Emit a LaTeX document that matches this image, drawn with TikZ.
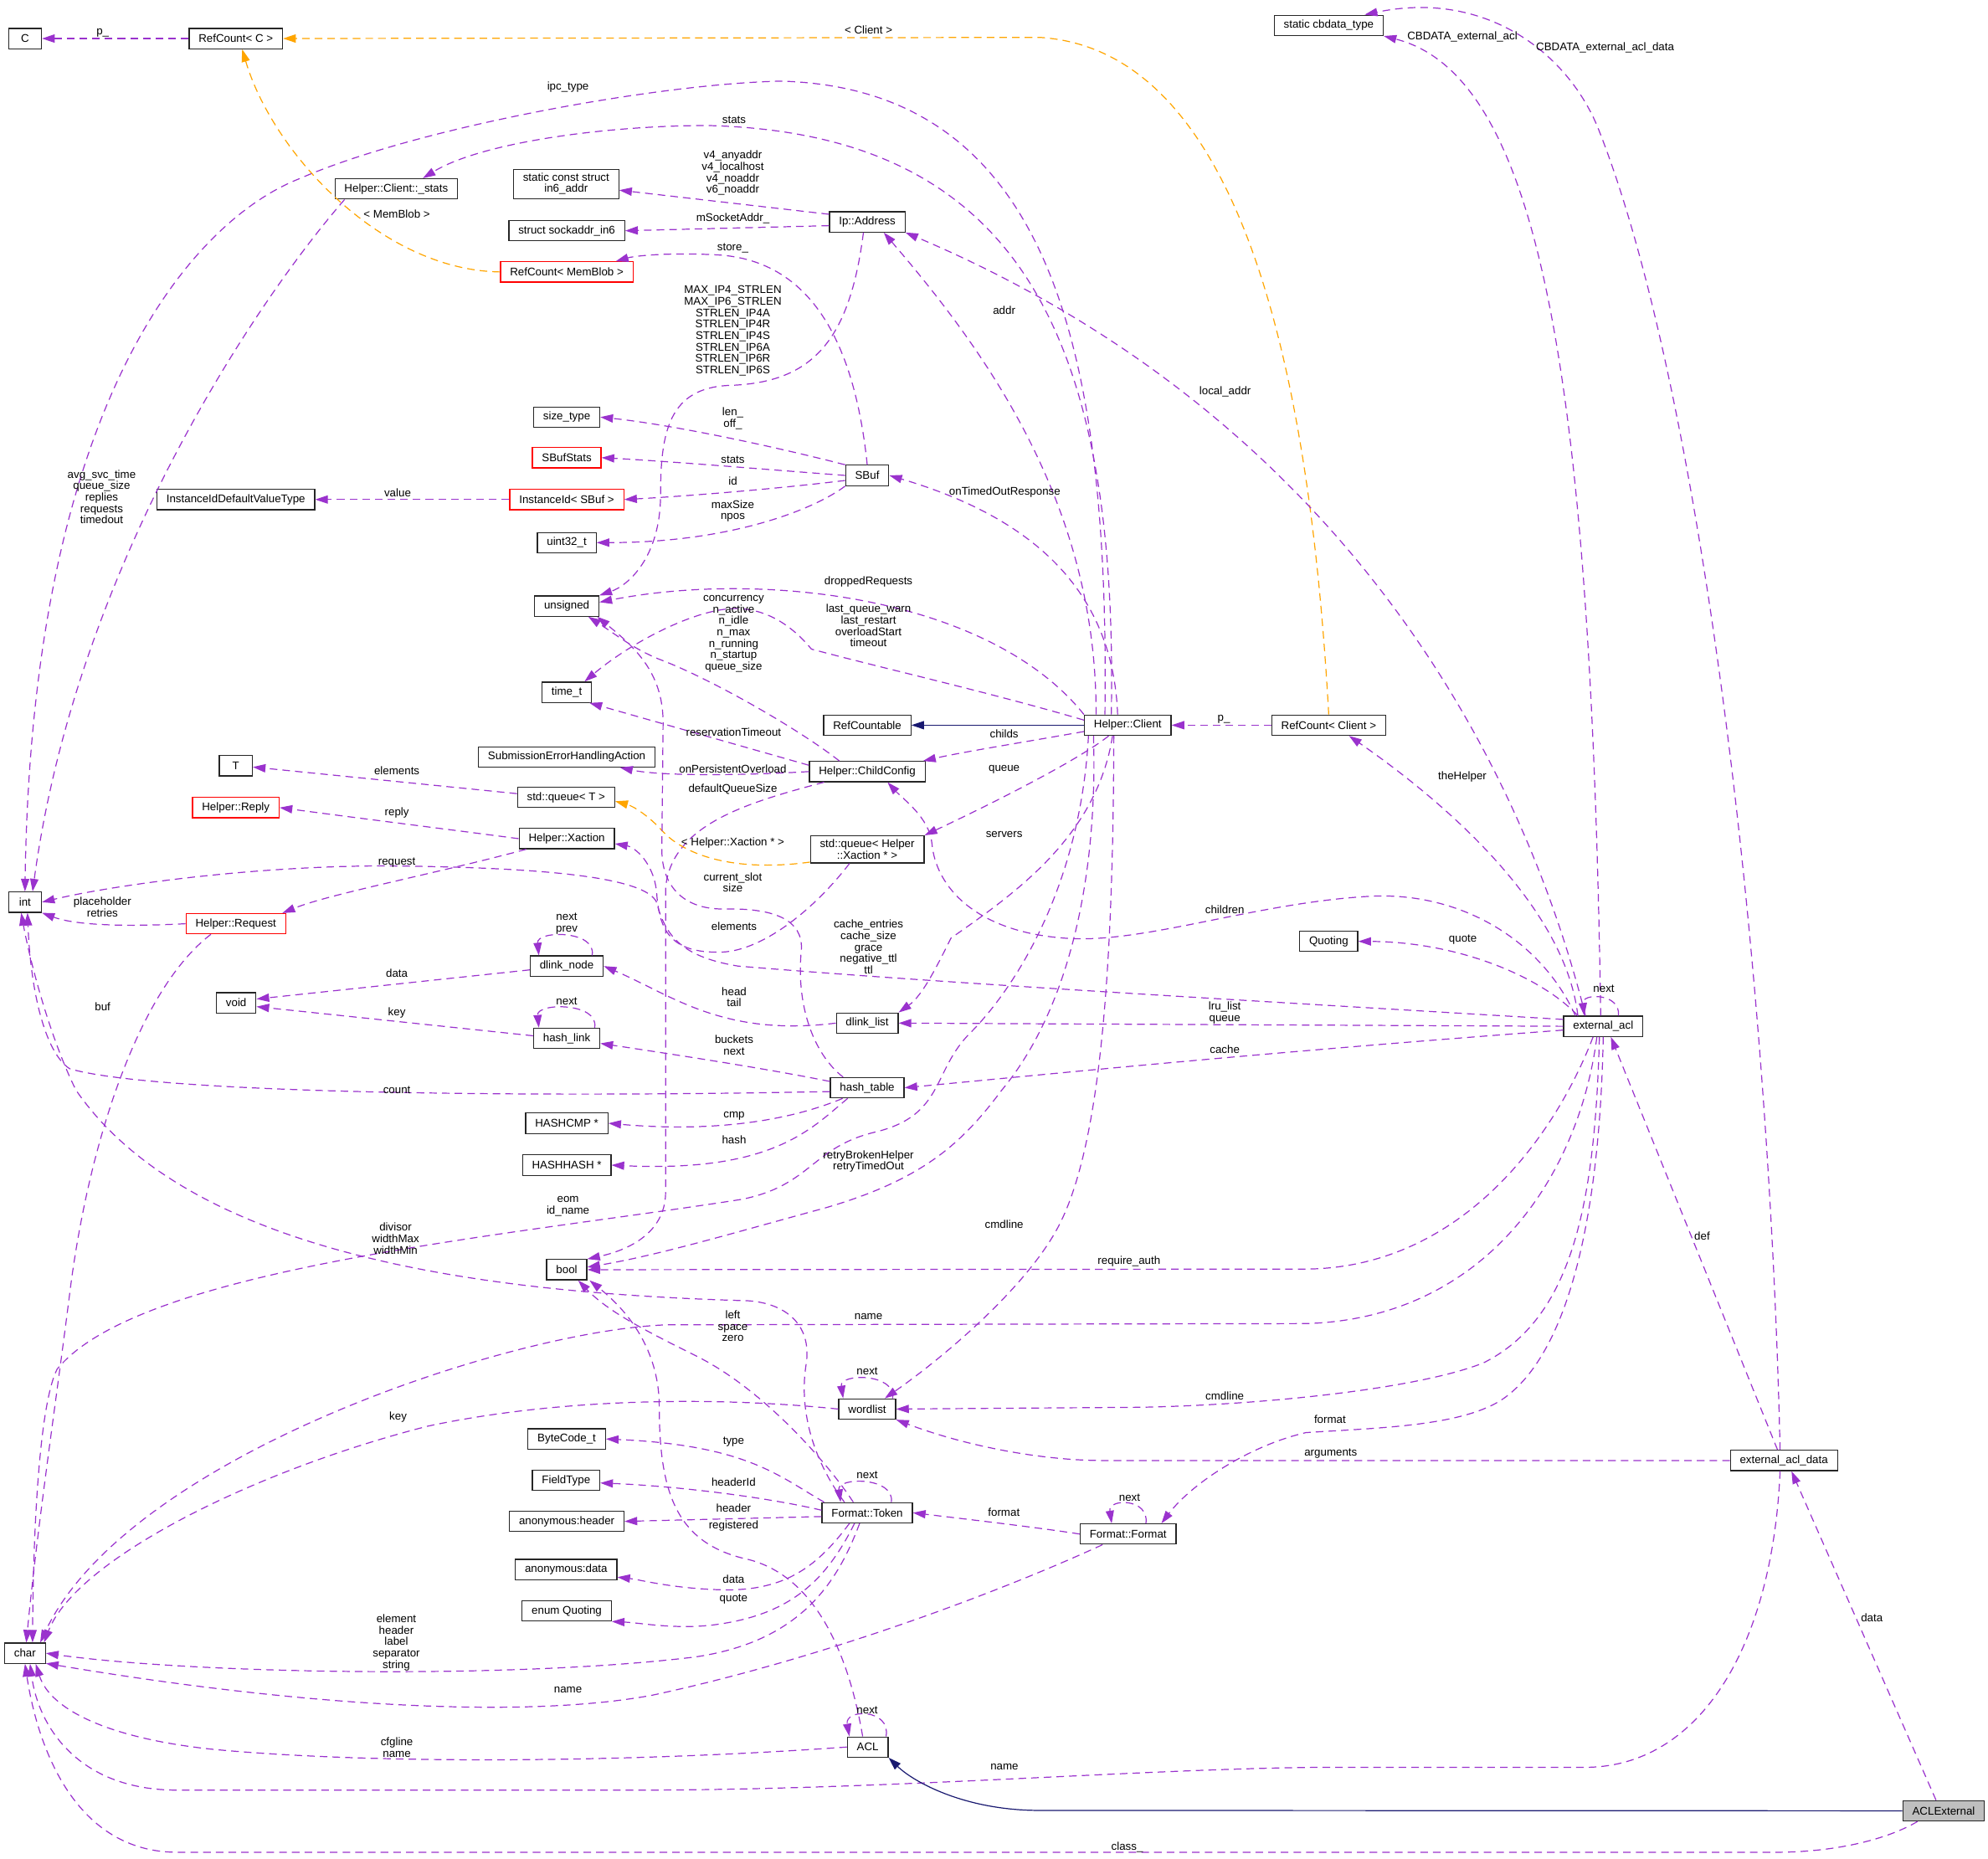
\documentclass[tikz,border=0pt]{standalone}
\usepackage{fontspec}
\setmainfont{Liberation Sans}
\usetikzlibrary{arrows.meta,calc}
\definecolor{memc}{HTML}{9A32CD}
\definecolor{tplc}{HTML}{FFA500}
\definecolor{inhc}{HTML}{191970}
\begin{document}
\begin{tikzpicture}[x=1pt,y=-1pt,
    font=\fontsize{8.8}{9}\selectfont,
    cls/.style={draw=black!85,line width=0.8pt,rectangle,fill=white,inner xsep=7.5pt,inner ysep=3pt,minimum height=16pt,minimum width=26pt,align=center},
    undoc/.style={cls,draw=red},
    focus/.style={cls,fill=black!25},
    lbl/.style={inner sep=0pt,align=center},
    mem/.style={memc,line width=0.8pt,dash pattern=on 6pt off 4pt,-{Triangle[length=10pt,width=6.5pt]}},
    tpl/.style={mem,tplc},
    inh/.style={inhc,line width=0.8pt,-{Triangle[length=10pt,width=6.5pt]}},
]
    \useasboundingbox (0,0) rectangle (1568,1466);

    % classes
    \node[cls] (cC) at (19.7,30.4) {C};
    \node[cls] (rcC) at (186,30.4) {RefCount< C >};
    \node[cls] (cbdata) at (1048,20) {static cbdata\_type};
    \node[cls] (cstats) at (312.5,149) {Helper::Client::\_stats};
    \node[cls] (in6) at (446.5,145) {static const struct\\in6\_addr};
    \node[cls] (sockaddr) at (447,182) {struct sockaddr\_in6};
    \node[cls] (ipaddr) at (684,175) {Ip::Address};
    \node[undoc] (rcmem) at (447,214.5) {RefCount< MemBlob >};
    \node[cls] (sizet) at (447,329) {size\_type};
    \node[undoc] (sbufstats) at (447,361) {SBufStats};
    \node[cls] (iidvt) at (186,394) {InstanceIdDefaultValueType};
    \node[undoc] (iid) at (447,394) {InstanceId< SBuf >};
    \node[cls] (sbuf) at (684,375) {SBuf};
    \node[cls] (uint) at (447,428) {uint32\_t};
    \node[cls] (unsig) at (447,478) {unsigned};
    \node[cls] (timet) at (447,546) {time\_t};
    \node[cls] (refcnt) at (684,572) {RefCountable};
    \node[cls] (client) at (889.5,572) {Helper::Client};
    \node[cls] (rcclient) at (1048,572) {RefCount< Client >};
    \node[cls] (tT) at (186,604) {T};
    \node[cls] (seha) at (447,597) {SubmissionErrorHandlingAction};
    \node[cls] (childcfg) at (684,608.6) {Helper::ChildConfig};
    \node[cls] (queuet) at (446.5,629) {std::queue< T >};
    \node[undoc] (reply) at (186,637) {Helper::Reply};
    \node[cls] (xaction) at (447,661.5) {Helper::Xaction};
    \node[cls] (queuex) at (684,670) {std::queue< Helper\\::Xaction * >};
    \node[cls] (tint) at (19.7,711.6) {int};
    \node[undoc] (request) at (186,728.6) {Helper::Request};
    \node[cls] (dlnode) at (447,762) {dlink\_node};
    \node[cls] (quoting) at (1048,742.5) {Quoting};
    \node[cls] (tvoid) at (186.3,791) {void};
    \node[cls] (extacl) at (1264.5,809.5) {external\_acl};
    \node[cls] (dllist) at (684,807) {dlink\_list};
    \node[cls] (hlink) at (447,819) {hash\_link};
    \node[cls] (htable) at (684,858) {hash\_table};
    \node[cls] (hcmp) at (447,886) {HASHCMP *};
    \node[cls] (hhash) at (447,919) {HASHHASH *};
    \node[cls] (tbool) at (447,1001.5) {bool};
    \node[cls] (wordlist) at (684,1111.4) {wordlist};
    \node[cls] (extdata) at (1407,1152) {external\_acl\_data};
    \node[cls] (bytecode) at (447,1135) {ByteCode\_t};
    \node[cls] (fieldtype) at (446.5,1167.7) {FieldType};
    \node[cls] (anonhdr) at (447,1200) {anonymous:header};
    \node[cls] (token) at (684,1193.2) {Format::Token};
    \node[cls] (format) at (889.8,1210) {Format::Format};
    \node[cls] (anondata) at (446.5,1238) {anonymous:data};
    \node[cls] (enumq) at (447,1270.6) {enum Quoting};
    \node[cls] (tchar) at (19.7,1304) {char};
    \node[cls] (acl) at (684.4,1378) {ACL};
    \node[focus] (aclext) at (1533,1428.3) {ACLExternal};

    % top part
    \draw[mem] (rcC) -- (cC);
    \draw[tpl] (rcmem.west) .. controls (300,213) and (215,120) .. ($(rcC.south)+(5,0)$);
    \draw[tpl] (rcclient.north) .. controls (1035,330) and (990,40) .. (820,29.5) -- (rcC.east);
    \draw[mem] ($(client.north)+(-18,0)$) .. controls (875,280) and (830,70) .. (616,64) .. controls (520,66) and (330,100) .. (236,141) .. controls (150,175) and (25,320) .. (tint.north);
    \draw[mem] ($(client.north)+(-13,0)$) .. controls (882,260) and (800,105) .. (558,99) .. controls (480,99) and (380,112) .. ($(cstats.north)+(21,0)$);
    \draw[mem] ($(cstats.south west)+(8,0)$) .. controls (200,240) and (60,450) .. ($(tint.north)+(6,0)$);
    \draw[mem] ($(ipaddr.west)+(0,-6)$) -- ($(in6.east)+(0,5)$);
    \draw[mem] ($(ipaddr.west)+(0,3)$) -- (sockaddr.east);
    \draw[mem] ($(ipaddr.south)+(-3,0)$) .. controls (670,270) and (640,302) .. (575,304) .. controls (528,306) and (521,340) .. (521,390) .. controls (521,440) and (495,462) .. (unsig.north east);
    \draw[mem] (sbuf.north) .. controls (675,280) and (645,205) .. (565,201) .. controls (525,199) and (500,202) .. ($(rcmem.north east)+(-14,0)$);
    \draw[mem] ($(client.north)+(-25,0)$) .. controls (865,400) and (780,280) .. ($(ipaddr.south)+(13,0)$);
    \draw[mem] ($(extacl.north)+(-14,0)$) .. controls (1200,600) and (1060,330) .. (ipaddr.south east);
    \draw[mem] ($(extacl.north)+(-2,0)$) .. controls (1255,300) and (1215,60) .. (cbdata.south east);
    \draw[mem] ($(extdata.north)+(-3,0)$) .. controls (1395,750) and (1340,300) .. (1260,100) .. controls (1235,40) and (1170,-8) .. ($(cbdata.north east)+(-15,0)$);

    % SBuf
    \draw[mem] (sbuf.north west) .. controls (610,352) and (530,335) .. (sizet.east);
    \draw[mem] (sbuf.west) .. controls (600,370) and (530,364) .. (sbufstats.east);
    \draw[mem] ($(sbuf.west)+(0,4)$) .. controls (600,387) and (530,392) .. (iid.east);
    \draw[mem] (iid) -- (iidvt);
    \draw[mem] (sbuf.south west) .. controls (645,400) and (580,428) .. (uint.east);

    % Helper::Client
    \draw[mem] ($(client.north)+(-8,0)$) .. controls (878,470) and (820,410) .. (sbuf.east);
    \draw[mem] (client.north west) .. controls (780,470) and (600,450) .. ($(unsig.east)+(0,-3)$);
    \draw[mem] ($(client.west)+(0,-4)$) .. controls (780,546) and (700,528) .. (640,512) .. controls (630,500) and (610,480) .. (580,480) .. controls (550,480) and (500,505) .. ($(timet.north)+(14,0)$);
    \draw[inh] (client) -- (refcnt);
    \draw[mem] (rcclient) -- (client);
    \draw[mem] ($(client.west)+(0,5)$) .. controls (810,585) and (760,593) .. ($(childcfg.north east)+(-2,0)$);
    \draw[mem] ($(client.south)+(-15,0)$) .. controls (850,600) and (780,635) .. (queuex.north east);
    \draw[mem] ($(client.south)+(-12,0)$) .. controls (865,660) and (800,705) .. (750,740) .. controls (740,760) and (728,785) .. (dllist.north east);
    \draw[mem] ($(client.south)+(-27,0)$) .. controls (866,700) and (840,800) .. (790,860) .. controls (760,900) and (730,930) .. (650,953) .. controls (580,972) and (520,990) .. ($(tbool.east)+(0,-2)$);
    \draw[mem] ($(client.south)+(-31,0)$) .. controls (852,700) and (800,780) .. (765,815) .. controls (735,845) and (745,880) .. (690,893) .. controls (640,905) and (640,935) .. (585,946) .. controls (400,975) and (110,1000) .. (45,1080) .. controls (30,1110) and (26,1220) .. ($(tchar.north)+(6,0)$);
    \draw[mem] ($(client.south)+(-11,0)$) .. controls (878,750) and (870,900) .. (835,967) .. controls (810,1015) and (745,1070) .. ($(wordlist.north east)+(-9,0)$);

    % Helper::ChildConfig and queues
    \draw[mem] ($(childcfg.north)+(-22,0)$) .. controls (630,575) and (560,535) .. (520,520) .. controls (500,512) and (485,500) .. ($(unsig.south)+(17,0)$);
    \draw[mem] ($(childcfg.west)+(0,-5)$) -- ($(timet.south east)+(-2,0)$);
    \draw[mem] (childcfg.west) .. controls (580,612) and (520,612) .. ($(seha.south east)+(-28,0)$);
    \draw[mem] ($(childcfg.south west)+(12,0)$) .. controls (590,633) and (530,650) .. (525,700) -- (525,940) .. controls (525,970) and (500,985) .. (tbool.north east);
    \draw[tpl] ($(queuex.west)+(0,10)$) .. controls (580,688) and (540,675) .. (522,655) .. controls (512,644) and (500,636) .. ($(queuet.east)+(0,3)$);
    \draw[mem] ($(queuex.south)+(-14,0)$) .. controls (640,720) and (600,750) .. (569,751) .. controls (530,752) and (520,735) .. (518,705) .. controls (516,680) and (500,668) .. ($(xaction.east)+(0,4)$);
    \draw[mem] (xaction.west) .. controls (360,655) and (280,645) .. (reply.east);
    \draw[mem] ($(xaction.south west)+(6,0)$) .. controls (340,690) and (260,705) .. ($(request.north east)+(-3,0)$);
    \draw[mem] ($(queuet.west)+(0,-3)$) -- ($(tT.east)+(0,1)$);
    \draw[mem] (request.west) .. controls (100,731) and (60,730) .. (tint.south east);
    \draw[mem] ($(request.south west)+(20,0)$) .. controls (110,780) and (70,900) .. (55,1020) .. controls (45,1100) and (30,1200) .. ($(tchar.north)+(1,0)$);

    % lists and hashes
    \draw[mem] ($(dlnode.west)+(0,3)$) -- ($(tvoid.east)+(0,-3)$);
    \draw[mem] ($(dlnode.north)+(20,0)$) .. controls +(4,-20) and +(-2,-20) .. ($(dlnode.north)+(-22,0)$);
    \draw[mem] ($(hlink.west)+(0,-2)$) -- ($(tvoid.east)+(0,3)$);
    \draw[mem] ($(hlink.north)+(22,0)$) .. controls +(4,-20) and +(-2,-20) .. ($(hlink.north)+(-22,0)$);
    \draw[mem] (dllist.west) .. controls (570,818) and (530,785) .. (dlnode.east);
    \draw[mem] ($(htable.west)+(0,-5)$) .. controls (600,842) and (520,830) .. ($(hlink.east)+(0,4)$);
    \draw[mem] ($(htable.west)+(0,3)$) .. controls (400,866) and (120,862) .. (55,843) .. controls (35,830) and (24,780) .. ($(tint.south)+(2,0)$);
    \draw[mem] ($(htable.south west)+(10,0)$) .. controls (620,885) and (560,893) .. (hcmp.east);
    \draw[mem] ($(htable.south west)+(14,0)$) .. controls (640,890) and (610,925) .. (hhash.east);
    \draw[mem] ($(htable.north)+(-19,0)$) .. controls (640,830) and (628,790) .. (632,750) .. controls (634,725) and (610,716) .. (570,717) .. controls (540,717) and (522,700) .. (522,670) -- (523,570) .. controls (523,530) and (500,510) .. ($(unsig.south)+(24,0)$);

    % external_acl
    \draw[mem] ($(extacl.west)+(0,3)$) .. controls (1000,830) and (850,845) .. (htable.east);
    \draw[mem] (extacl.west) -- (dllist.east);
    \draw[mem] ($(extacl.north west)+(0,3)$) .. controls (1000,790) and (750,776) .. (582,762) .. controls (540,755) and (525,740) .. (518,712) .. controls (510,692) and (430,684) .. (303,683) .. controls (200,683) and (90,698) .. (tint.east);
    \draw[mem] ($(extacl.north)+(-20,0)$) .. controls (1215,770) and (1150,743) .. (quoting.east);
    \draw[mem] ($(extacl.north)+(12,0)$) .. controls +(2,-18) and +(-2,-18) .. ($(extacl.north)+(-15,0)$);
    \draw[mem] ($(extacl.north)+(-20,0)$) .. controls (1235,720) and (1150,640) .. ($(rcclient.south)+(16,0)$);
    \draw[mem] ($(extacl.north)+(-22,0)$) .. controls (1215,740) and (1150,703) .. (1080,707) .. controls (990,712) and (900,745) .. (840,740) .. controls (770,735) and (738,700) .. (735,665) .. controls (733,645) and (712,630) .. ($(childcfg.south)+(16,0)$);
    \draw[mem] ($(extacl.south)+(-8,0)$) .. controls (1225,900) and (1150,1000) .. (1030,1001) -- (tbool.east);
    \draw[mem] ($(extacl.south)+(-5,0)$) .. controls (1245,930) and (1170,1040) .. (1030,1044) -- (525,1045) .. controls (400,1050) and (100,1150) .. ($(tchar.north)+(12,0)$);
    \draw[mem] ($(extacl.south)+(-3,0)$) .. controls (1258,950) and (1240,1040) .. (1170,1075) .. controls (1120,1095) and (1000,1108) .. (900,1110) -- (wordlist.east);
    \draw[mem] (extacl.south) .. controls (1262,950) and (1240,1060) .. (1190,1100) .. controls (1160,1125) and (1090,1126) .. (1030,1130) .. controls (986,1140) and (940,1170) .. ($(format.north east)+(-12,0)$);

    % external_acl_data and ACLExternal
    \draw[mem] ($(extdata.north)+(-5,0)$) -- ($(extacl.south)+(6,0)$);
    \draw[mem] (extdata.west) -- (870,1152) .. controls (820,1152) and (760,1140) .. (wordlist.south east);
    \draw[mem] ($(extdata.south)+(-3,0)$) .. controls (1398,1300) and (1340,1394) .. (1250,1394) -- (1043,1394) .. controls (900,1395) and (700,1412) .. (500,1412) -- (140,1412) .. controls (60,1412) and (30,1360) .. ($(tchar.south)+(4,0)$);
    \draw[mem] ($(aclext.north)+(-6,0)$) -- ($(extdata.south)+(6,0)$);
    \draw[inh] (aclext.west) -- (820,1428) .. controls (760,1428) and (720,1405) .. (acl.south east);
    \draw[mem] ($(aclext.south west)+(12,0)$) .. controls (1490,1450) and (1450,1461) .. (1400,1461) -- (140,1461) .. controls (60,1461) and (30,1380) .. (tchar.south);

    % ACL
    \draw[mem] (acl.west) .. controls (500,1390) and (300,1392) .. (170,1380) .. controls (90,1372) and (40,1350) .. ($(tchar.south east)+(-8,0)$);
    \draw[mem] ($(acl.north east)+(-2,0)$) .. controls +(4,-22) and +(-4,-22) .. ($(acl.north west)+(2,0)$);
    \draw[mem] ($(acl.north)+(-4,0)$) .. controls (672,1320) and (650,1245) .. (590,1230) .. controls (535,1218) and (520,1180) .. (520,1110) .. controls (520,1060) and (490,1030) .. ($(tbool.south)+(18,0)$);

    % Format::Token and Format::Format
    \draw[mem] ($(token.north)+(-11,0)$) .. controls (650,1150) and (600,1095) .. (550,1070) .. controls (510,1050) and (480,1035) .. ($(tbool.south)+(9,0)$);
    \draw[mem] ($(token.north)+(-18,0)$) .. controls (640,1150) and (630,1110) .. (636,1075) .. controls (640,1045) and (620,1028) .. (590,1026) .. controls (380,1020) and (150,990) .. (60,860) .. controls (40,820) and (24,760) .. ($(tint.south)+(-3,0)$);
    \draw[mem] ($(token.north west)+(2,0)$) .. controls (615,1165) and (590,1140) .. (bytecode.east);
    \draw[mem] ($(token.west)+(0,-2)$) .. controls (600,1180) and (530,1172) .. ($(fieldtype.east)+(0,2)$);
    \draw[mem] ($(token.west)+(0,3)$) -- (anonhdr.east);
    \draw[mem] ($(token.south)+(-14,0)$) .. controls (645,1235) and (620,1255) .. (570,1254) .. controls (530,1253) and (505,1246) .. ($(anondata.east)+(0,6)$);
    \draw[mem] ($(token.south)+(-10,0)$) .. controls (650,1250) and (620,1275) .. (560,1282) .. controls (530,1285) and (505,1280) .. (enumq.south east);
    \draw[mem] ($(token.south)+(-6,0)$) .. controls (660,1250) and (630,1295) .. (548,1307) .. controls (400,1325) and (150,1320) .. (tchar.east);
    \draw[mem] ($(token.north)+(19,0)$) .. controls +(3,-20) and +(-3,-20) .. ($(token.north)+(-21,0)$);
    \draw[mem] (format.west) .. controls (820,1205) and (760,1198) .. (token.east);
    \draw[mem] ($(format.north)+(14,0)$) .. controls +(3,-20) and +(-3,-20) .. ($(format.north)+(-13,0)$);
    \draw[mem] ($(format.south west)+(18,0)$) .. controls (790,1255) and (650,1308) .. (515,1337) .. controls (420,1355) and (250,1348) .. ($(tchar.east)+(0,8)$);

    % wordlist
    \draw[mem] (wordlist.west) .. controls (550,1100) and (430,1105) .. (337,1125) .. controls (200,1160) and (60,1230) .. ($(tchar.north)+(15,0)$);
    \draw[mem] ($(wordlist.north)+(20,0)$) .. controls +(3,-20) and +(-3,-20) .. ($(wordlist.north)+(-19,0)$);

    % labels
    \node[lbl] (lpc) at (81,26) {p\_};
    \node[lbl] (lipc) at (448,69) {ipc\_type};
    \node[lbl] (lmemblob) at (313,169) {< MemBlob >};
    \node[lbl] (lclientt) at (685,23.6) {< Client >};
    \node[lbl] (lstats) at (579,94.3) {stats};
    \node[lbl] (lv4) at (578,136.5) {v4\_anyaddr\\v4\_localhost\\v4\_noaddr\\v6\_noaddr};
    \node[lbl] (lmsock) at (578,172) {mSocketAddr\_};
    \node[lbl] (lstore) at (578,196) {store\_};
    \node[lbl] (lmax) at (578,261) {MAX\_IP4\_STRLEN\\MAX\_IP6\_STRLEN\\STRLEN\_IP4A\\STRLEN\_IP4R\\STRLEN\_IP4S\\STRLEN\_IP6A\\STRLEN\_IP6R\\STRLEN\_IP6S};
    \node[lbl] (laddr) at (792,244.7) {addr};
    \node[lbl] (llocal) at (966.3,308.9) {local\_addr};
    \node[lbl] (lcb1) at (1153.4,28.8) {CBDATA\_external\_acl};
    \node[lbl] (lcb2) at (1266,37.5) {CBDATA\_external\_acl\_data};
    \node[lbl] (lavg) at (80.2,392) {avg\_svc\_time\\queue\_size\\replies\\requests\\timedout};
    \node[lbl] (llen) at (578,330) {len\_\\off\_};
    \node[lbl] (lsbstats) at (578,362.4) {stats};
    \node[lbl] (lid) at (578,379.4) {id};
    \node[lbl] (lvalue) at (313.6,388.6) {value};
    \node[lbl] (lmaxsize) at (578,403) {maxSize\\npos};
    \node[lbl] (lontimed) at (792.5,388) {onTimedOutResponse};
    \node[lbl] (ldropped) at (685,458.6) {droppedRequests};
    \node[lbl] (lconc) at (578.6,500) {concurrency\\n\_active\\n\_idle\\n\_max\\n\_running\\n\_startup\\queue\_size};
    \node[lbl] (llastq) at (685,493.6) {last\_queue\_warn\\last\_restart\\overloadStart\\timeout};
    \node[lbl] (lreserv) at (578.6,577.4) {reservationTimeout};
    \node[lbl] (lchilds) at (792,578.6) {childs};
    \node[lbl] (lpclient) at (965.3,567.5) {p\_};
    \node[lbl] (lonpers) at (578,606.5) {onPersistentOverload};
    \node[lbl] (ldefq) at (578,622.5) {defaultQueueSize};
    \node[lbl] (lqueue) at (792,607) {queue};
    \node[lbl] (lxact) at (578,664.7) {< Helper::Xaction * >};
    \node[lbl] (lservers) at (792,658) {servers};
    \node[lbl] (lcurslot) at (578,696) {current\_slot\\size};
    \node[lbl] (lchildren) at (966,717.2) {children};
    \node[lbl] (lthehelper) at (1153.4,613) {theHelper};
    \node[lbl] (lelemt) at (313,608) {elements};
    \node[lbl] (lreply) at (313,641) {reply};
    \node[lbl] (lrequest) at (313,680.3) {request};
    \node[lbl] (lplace) at (80.8,715.5) {placeholder\\retries};
    \node[lbl] (lnextprev) at (447,728.5) {next\\prev};
    \node[lbl] (ldata) at (313,767.7) {data};
    \node[lbl] (lbuf) at (81,794) {buf};
    \node[lbl] (lnexthl) at (447,790) {next};
    \node[lbl] (lkey) at (313,799) {key};
    \node[lbl] (lcount) at (313,860) {count};
    \node[lbl] (lelemx) at (579,731) {elements};
    \node[lbl] (lcachee) at (685,747) {cache\_entries\\cache\_size\\grace\\negative\_ttl\\ttl};
    \node[lbl] (lheadtail) at (579,786.5) {head\\tail};
    \node[lbl] (lbuckets) at (579,824.5) {buckets\\next};
    \node[lbl] (lcmp) at (579,880) {cmp};
    \node[lbl] (lhash) at (579,899) {hash};
    \node[lbl] (lretry) at (685,916) {retryBrokenHelper\\retryTimedOut};
    \node[lbl] (lcmdline) at (792,965.5) {cmdline};
    \node[lbl] (lreqauth) at (890.5,995) {require\_auth};
    \node[lbl] (lleft) at (578,1046) {left\\space\\zero};
    \node[lbl] (lname) at (685,1038.4) {name};
    \node[lbl] (lnextwl) at (684,1081.7) {next};
    \node[lbl] (lquote) at (1153.8,741) {quote};
    \node[lbl] (lnextext) at (1265,780) {next};
    \node[lbl] (llru) at (966,798.8) {lru\_list\\queue};
    \node[lbl] (lcache) at (966,828) {cache};
    \node[lbl] (ldef) at (1342.5,974.7) {def};
    \node[lbl] (leom) at (448,951.5) {eom\\id\_name};
    \node[lbl] (ldivisor) at (312,977) {divisor\\widthMax\\widthMin};
    \node[lbl] (lkeywl) at (314,1117.5) {key};
    \node[lbl] (ltype) at (578.6,1137.2) {type};
    \node[lbl] (lheaderid) at (578.6,1168.8) {headerId};
    \node[lbl] (lheader) at (578.6,1189.8) {header};
    \node[lbl] (lregistered) at (578.6,1203.7) {registered};
    \node[lbl] (ldatatok) at (578.6,1245.6) {data};
    \node[lbl] (lquotetok) at (578.6,1261.6) {quote};
    \node[lbl] (lelement) at (312.6,1295.6) {element\\header\\label\\separator\\string};
    \node[lbl] (lnamefmt) at (448,1332.8) {name};
    \node[lbl] (lcfgline) at (313,1378.3) {cfgline\\name};
    \node[lbl] (lnexttok) at (684,1163.5) {next};
    \node[lbl] (lformat) at (791.8,1193) {format};
    \node[lbl] (lnextfmt) at (890.9,1181) {next};
    \node[lbl] (lnextacl) at (684,1348.7) {next};
    \node[lbl] (lnamedata) at (792.2,1393.7) {name};
    \node[lbl] (lclass) at (889,1456.9) {class\_};
    \node[lbl] (lcmdext) at (966,1101.3) {cmdline};
    \node[lbl] (lformatext) at (1049,1119.3) {format};
    \node[lbl] (largs) at (1049.6,1146.6) {arguments};
    \node[lbl] (ldataext) at (1476.4,1276) {data};
\end{tikzpicture}
\end{document}
